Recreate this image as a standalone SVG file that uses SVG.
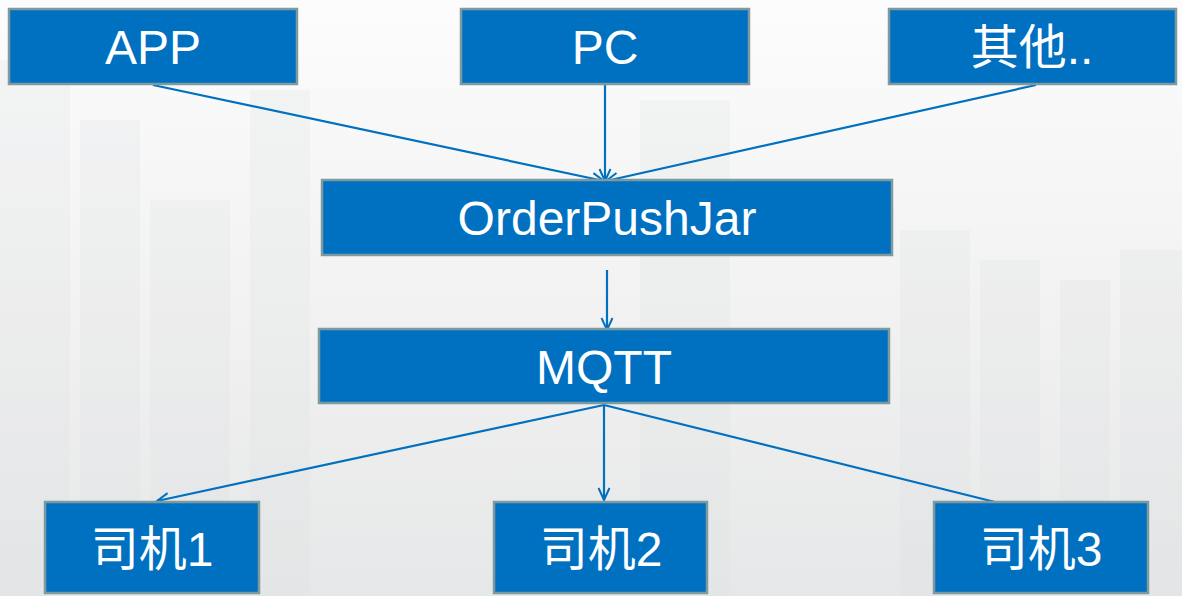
<svg xmlns="http://www.w3.org/2000/svg" width="1182" height="596" viewBox="0 0 1182 596">
<defs>
<style>
.box{fill:#0070C0;stroke:#7F9A9E;stroke-width:2.5}
.lbl{fill:#fff;font-family:"Liberation Sans","Noto Sans CJK SC",Arial,sans-serif;font-size:48px;text-anchor:middle}
.edge{fill:none;stroke:#0070C0;stroke-width:2.2}
.bld{fill:#dcdfe1}
</style>
<marker id="arr" viewBox="0 0 14 14" refX="13" refY="7" markerWidth="14" markerHeight="14" markerUnits="userSpaceOnUse" orient="auto">
<path d="M1,1.5 L13,7 L1,12.5" fill="none" stroke="#0070C0" stroke-width="2"/>
</marker>
<linearGradient id="bg" x1="0" y1="0" x2="0" y2="1">
<stop offset="0" stop-color="#fcfcfc"/>
<stop offset="0.55" stop-color="#f1f1f1"/>
<stop offset="1" stop-color="#e6e7e8"/>
</linearGradient>
</defs>
<g id="background">
<rect x="0" y="0" width="1182" height="596" fill="url(#bg)"/>
<g opacity="0.22">
<rect class="bld" x="0" y="60" width="70" height="536"/>
<rect class="bld" x="80" y="120" width="60" height="476"/>
<rect class="bld" x="150" y="200" width="80" height="396"/>
<rect class="bld" x="250" y="90" width="60" height="506"/>
<rect class="bld" x="640" y="100" width="90" height="496"/>
<rect class="bld" x="900" y="230" width="70" height="366"/>
<rect class="bld" x="980" y="260" width="60" height="336"/>
<rect class="bld" x="1060" y="280" width="50" height="316"/>
<rect class="bld" x="1120" y="250" width="62" height="346"/>
</g>
</g>
<g id="connectors">
<line class="edge" x1="153" y1="85" x2="604" y2="181" marker-end="url(#arr)"/>
<line class="edge" x1="605" y1="85" x2="605" y2="181" marker-end="url(#arr)"/>
<line class="edge" x1="1036" y1="85" x2="606" y2="181" marker-end="url(#arr)"/>
<line class="edge" x1="607" y1="270" x2="607" y2="330" marker-end="url(#arr)"/>
<line class="edge" x1="604" y1="405" x2="157" y2="501" marker-end="url(#arr)"/>
<line class="edge" x1="604" y1="405" x2="604" y2="500" marker-end="url(#arr)"/>
<line class="edge" x1="604" y1="405" x2="995" y2="502"/>
</g>
<g id="node-app"><rect class="box" x="9" y="9" width="288" height="75"/><text class="lbl" x="153" y="64">APP</text></g>
<g id="node-pc"><rect class="box" x="461" y="9" width="288" height="75"/><text class="lbl" x="605" y="64">PC</text></g>
<g id="node-other"><rect class="box" x="889" y="9" width="287" height="75"/><text class="lbl" x="1032" y="64">其他..</text></g>
<g id="node-orderpushjar"><rect class="box" x="322" y="180" width="570" height="75"/><text class="lbl" x="607" y="235">OrderPushJar</text></g>
<g id="node-mqtt"><rect class="box" x="319" y="329" width="570" height="74"/><text class="lbl" x="604" y="384">MQTT</text></g>
<g id="node-driver1"><rect class="box" x="45" y="502" width="214" height="91"/><text class="lbl" x="152" y="566">司机1</text></g>
<g id="node-driver2"><rect class="box" x="494" y="502" width="213" height="91"/><text class="lbl" x="601" y="566">司机2</text></g>
<g id="node-driver3"><rect class="box" x="934" y="502" width="214" height="91"/><text class="lbl" x="1041" y="566">司机3</text></g>
</svg>
